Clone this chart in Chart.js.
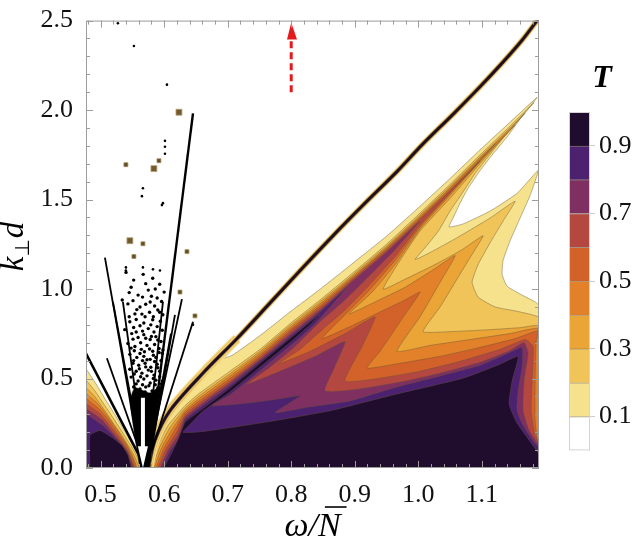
<!DOCTYPE html>
<html>
<head>
<meta charset="utf-8">
<script src="https://cdn.jsdelivr.net/npm/chart.js@4.4.0/dist/chart.umd.min.js"></script>
<style>
  body { margin: 0; background: #fff; }
  #wrap { position: relative; width: 639px; height: 547px; }
  canvas { position: absolute; }
  #main { left: 0; top: 0; }
  #bar { left: 540px; top: 50px; }
</style>
</head>
<body>
<div id="wrap">
  <canvas id="main" width="639" height="547"></canvas>
  <canvas id="bar" width="99" height="420"></canvas>
</div>
<script>
// ticks
const xTickValues = [0.5, 0.6, 0.7, 0.8, 0.9, 1.0, 1.1];
const xMinorTicks = [0.48, 0.52, 0.54, 0.56, 0.58, 0.62, 0.64, 0.66, 0.68, 0.72, 0.74, 0.76, 0.78,
  0.82, 0.84, 0.86, 0.88, 0.92, 0.94, 0.96, 0.98, 1.02, 1.04, 1.06, 1.08, 1.12, 1.14, 1.16, 1.18];
const yTickValues = [0, 0.5, 1.0, 1.5, 2.0, 2.5];
const yMinorTicks = [0.1, 0.2, 0.3, 0.4, 0.6, 0.7, 0.8, 0.9, 1.1, 1.2, 1.3, 1.4, 1.6, 1.7, 1.8, 1.9,
  2.1, 2.2, 2.3, 2.4];
const colorbarTicks = [0.1, 0.3, 0.5, 0.7, 0.9];
const colorbarEdges = [0, 0.1, 0.2, 0.3, 0.4, 0.5, 0.6, 0.7, 0.8, 0.9, 1.0];

// contour regions T >= level, main part (omega/N, k d)
const band1 = [[0.5729,0],[0.5855,0.144],[0.6013,0.260],[0.6249,0.381],[0.6564,0.502],[0.6847,0.602],[0.7068,0.629],
  [0.7509,0.740],[0.7981,0.872],[0.8454,0.999],[0.8926,1.132],[0.9509,1.298],[1.0028,1.463],[1.0501,1.618],[1.0973,1.778],[1.1446,1.933],[1.1871,2.071],
  [1.1635,1.966],[1.1398,1.850],[1.1178,1.756],[1.0973,1.662],[1.0784,1.563],[1.0658,1.480],[1.0548,1.397],[1.0485,1.347],
  [1.0706,1.364],[1.1131,1.436],[1.1556,1.535],[1.1887,1.662],
  [1.1761,1.524],[1.1603,1.397],[1.1446,1.270],[1.1335,1.160],[1.1320,1.082],
  [1.1398,1.016],[1.1635,0.966],[1.1839,0.928],[1.195,0.890],[1.195,-0.01]];
const band2 = [[0.5776,0],[0.5902,0.127],[0.6060,0.237],[0.6328,0.348],[0.6564,0.420],[0.7036,0.541],[0.7509,0.663],[0.7981,0.806],
  [0.8454,0.939],[0.8926,1.077],[0.9509,1.253],[1.0028,1.425],[1.0501,1.585],[1.0973,1.750],[1.1446,1.911],[1.1824,2.043],
  [1.1572,1.944],[1.1335,1.844],[1.1099,1.739],[1.0895,1.646],[1.0690,1.535],[1.0501,1.436],[1.0318,1.325],[1.0107,1.231],[0.9950,1.165],
  [1.0186,1.204],[1.0611,1.287],[1.1131,1.397],[1.1524,1.491],
  [1.1335,1.380],[1.1131,1.259],[1.0942,1.137],[1.0847,1.038],
  [1.0942,0.955],[1.1209,0.900],[1.1603,0.872],[1.195,0.830],[1.195,-0.01]];
const band3 = [[0.5808,0],[0.5934,0.121],[0.6091,0.226],[0.6328,0.334],[0.6564,0.406],[0.7036,0.527],[0.7509,0.652],[0.7981,0.795],
  [0.8454,0.928],[0.8926,1.066],[0.9509,1.242],[1.0028,1.414],[1.0501,1.574],[1.0973,1.739],[1.1446,1.900],[1.1682,1.982],
  [1.1398,1.872],[1.0973,1.701],[1.0501,1.507],[1.0028,1.325],[0.9713,1.160],[0.9446,0.999],
  [0.9792,1.055],[1.0265,1.137],[1.0690,1.220],[1.1020,1.298],
  [1.0816,1.176],[1.0580,1.038],[1.0343,0.900],[1.0076,0.762],
  [1.0501,0.762],[1.1131,0.773],[1.1603,0.784],[1.195,0.792],[1.195,-0.01]];
const band4 = [[0.5839,0],[0.5965,0.116],[0.6123,0.215],[0.6328,0.320],[0.6564,0.392],[0.7036,0.514],[0.7509,0.641],[0.7981,0.784],
  [0.8454,0.917],[0.8926,1.057],[0.9509,1.234],[1.0028,1.405],[1.0501,1.565],[1.0973,1.731],[1.1524,1.916],
  [1.0973,1.712],[1.0501,1.524],[1.0028,1.336],[0.9635,1.137],[0.9273,0.983],[0.8910,0.861],
  [0.9320,0.928],[0.9792,1.010],[1.0265,1.115],[1.0580,1.187],
  [1.0343,1.038],[1.0028,0.845],[0.9666,0.652],
  [1.0186,0.685],[1.0816,0.718],[1.1446,0.751],[1.195,0.776],[1.195,-0.01]];
const band5 = [[0.5871,0],[0.5997,0.110],[0.6154,0.204],[0.6328,0.309],[0.6564,0.378],[0.7036,0.500],[0.7509,0.629],[0.7981,0.773],
  [0.8454,0.906],[0.8926,1.049],[0.9509,1.226],[1.0028,1.397],[1.0501,1.557],[1.0973,1.723],[1.1209,1.811],
  [1.0816,1.657],[1.0501,1.535],[1.0028,1.347],[0.9635,1.160],[0.9241,0.999],[0.8847,0.856],[0.8485,0.723],
  [0.8926,0.790],[0.9398,0.872],[0.9792,0.939],[1.0028,0.983],
  [0.9713,0.817],[0.9398,0.652],[0.9194,0.558],
  [0.9713,0.585],[1.0343,0.624],[1.0973,0.674],[1.1524,0.723],[1.19,0.768],[1.1855,0.707],[1.1839,0.486],
  [1.1839,0.265],[1.1887,0.127],[1.195,0.110],[1.195,-0.01]];
const band6 = [[0.5902,0],[0.6028,0.105],[0.6186,0.193],[0.6328,0.295],[0.6564,0.364],[0.7036,0.486],[0.7509,0.618],[0.7981,0.762],
  [0.8454,0.895],[0.8926,1.041],[0.9509,1.218],[1.0028,1.389],[1.0501,1.549],[1.0973,1.715],
  [1.0501,1.538],[1.0028,1.358],[0.9635,1.182],[0.9241,1.027],[0.8847,0.883],[0.8454,0.762],[0.8139,0.663],[0.7792,0.580],
  [0.8296,0.652],[0.8847,0.751],[0.9320,0.845],
  [0.9115,0.679],[0.8847,0.486],
  [0.9398,0.502],[1.0028,0.541],[1.0658,0.596],[1.1288,0.663],[1.1682,0.718],[1.1808,0.679],[1.1792,0.486],
  [1.1776,0.320],[1.1839,0.182],[1.195,0.115],[1.195,-0.01]];
const band7 = [[0.5934,0],[0.6060,0.099],[0.6217,0.182],[0.6328,0.282],[0.6564,0.351],[0.7036,0.475],[0.7509,0.607],[0.7981,0.748],
  [0.8454,0.883],[0.8926,1.033],[0.9509,1.209],[1.0028,1.380],
  [0.9635,1.220],[0.9241,1.077],[0.8847,0.939],[0.8454,0.817],[0.8060,0.679],[0.7666,0.563],[0.7304,0.469],
  [0.7824,0.541],[0.8375,0.624],[0.8847,0.707],
  [0.8690,0.569],[0.8532,0.431],
  [0.9083,0.442],[0.9713,0.480],[1.0343,0.530],[1.0973,0.591],[1.1446,0.657],[1.1666,0.701],[1.1729,0.641],
  [1.1666,0.486],[1.1650,0.320],[1.1745,0.210],[1.195,0.095],[1.195,-0.01]];
const band8 = [[0.5965,0],[0.6091,0.094],[0.6249,0.171],[0.6328,0.268],[0.6564,0.337],[0.7036,0.461],[0.7509,0.596],[0.7981,0.734],
  [0.8454,0.872],[0.8879,1.010],
  [0.8611,0.900],[0.8375,0.806],[0.8139,0.729],[0.7745,0.613],[0.7351,0.497],[0.7036,0.409],[0.6753,0.348],
  [0.7351,0.364],[0.7824,0.387],[0.8139,0.403],
  [0.7745,0.309],
  [0.8296,0.342],[0.8926,0.375],[0.9666,0.453],[1.0343,0.514],[1.0973,0.574],[1.1414,0.641],[1.1635,0.674],
  [1.1635,0.569],[1.1572,0.431],[1.1556,0.320],[1.1650,0.237],[1.1824,0.144],[1.195,0.090],[1.195,-0.01]];
const band9 = [[0.5997,0],[0.6123,0.088],[0.6233,0.171],[0.6328,0.254],[0.6564,0.320],[0.7036,0.447],[0.7509,0.585],[0.7981,0.723],
  [0.8454,0.861],
  [0.8296,0.801],[0.7981,0.701],[0.7509,0.563],[0.7036,0.425],[0.6603,0.315],[0.6406,0.243],[0.6296,0.199],
  [0.6611,0.204],[0.7666,0.260],[0.8611,0.320],[0.9666,0.414],[1.0706,0.502],[1.1288,0.580],[1.1572,0.624],
  [1.1477,0.486],[1.1430,0.359],[1.1540,0.260],[1.1745,0.155],[1.195,0.050],[1.195,-0.01]];

// contour regions, small part at low omega
const leftBand1 = [[0.474,0.570],[0.4910,0.480],[0.5068,0.387],[0.5225,0.298],[0.5383,0.204],[0.5540,0.110],[0.5650,0.033],[0.5698,-0.01],[0.474,-0.01]];
const leftBand2 = [[0.474,0.505],[0.4910,0.431],[0.5068,0.348],[0.5225,0.265],[0.5383,0.177],[0.5540,0.088],[0.5635,-0.01],[0.474,-0.01]];
const leftBand3 = [[0.474,0.460],[0.4910,0.398],[0.5068,0.320],[0.5225,0.237],[0.5383,0.155],[0.5524,0.072],[0.5603,-0.01],[0.474,-0.01]];
const leftBand4 = [[0.474,0.425],[0.4942,0.364],[0.5099,0.293],[0.5257,0.215],[0.5398,0.138],[0.5509,0.061],[0.5572,-0.01],[0.474,-0.01]];
const leftBand5 = [[0.474,0.397],[0.4973,0.331],[0.5131,0.265],[0.5272,0.193],[0.5414,0.121],[0.5509,0.050],[0.5556,-0.01],[0.474,-0.01]];
const leftBand6 = [[0.474,0.368],[0.4989,0.304],[0.5146,0.237],[0.5288,0.171],[0.5414,0.105],[0.5493,0.039],[0.5540,-0.01],[0.474,-0.01]];
const leftBand7 = [[0.474,0.340],[0.5020,0.271],[0.5162,0.210],[0.5304,0.149],[0.5430,0.088],[0.5493,0.028],[0.5524,-0.01],[0.474,-0.01]];
const leftBand8 = [[0.474,0.312],[0.5052,0.232],[0.5194,0.182],[0.5320,0.133],[0.5430,0.077],[0.5477,0.017],[0.5509,-0.01],[0.474,-0.01]];
const leftBand9 = [[0.4831,-0.01],[0.4831,0.182],[0.4989,0.210],[0.5178,0.171],[0.5335,0.127],[0.5430,0.072],[0.5493,-0.01]];

// narrow resonance ridge (lower part is broader)
const ridgeLine = [[0.5745,-0.01],[0.5855,0.155],[0.6091,0.320],[0.6611,0.530],[0.7146,0.723],[0.7666,0.922],[0.8186,1.121],
  [0.8658,1.298],[0.9131,1.469],[0.9666,1.657],[1.0060,1.806],[1.0548,1.977],[1.0973,2.131],[1.1335,2.269],[1.1635,2.391],
  [1.1871,2.501],[1.195,2.54]];
const ridgeLow = [[0.5745,-0.01],[0.5855,0.155],[0.6091,0.320],[0.6611,0.530],[0.7146,0.723]];

// numerical noise near the cut-off
const leftRidge = [[0.474,0.66],[0.5619,0.061]];
const fanLines = [
  [[0.5068,1.176],[0.5619,0.061]],
  [[0.5099,0.613],[0.5572,0.138]],
  [[0.5194,0.928],[0.5619,0.116]],
  [[0.5351,0.928],[0.5666,0.116]],
  [[0.5981,0.928],[0.5729,0.099]],
  [[0.6170,0.856],[0.5808,0.116]],
  [[0.6107,0.751],[0.5776,0.099]],
  [[0.6280,0.944],[0.5776,0.099]],
  [[0.6454,0.817],[0.5808,0.099]]
];
const longFanLine = [[0.6454,1.982],[0.5761,0.033]];
const fanCore = [[0.5619,-0.01],[0.5461,0.375],[0.5540,0.45],[0.5776,0.42],[0.5950,0.46],[0.5871,0.30],[0.5776,-0.01]];
const clusterDots = [[0.540,1.093],[0.567,1.082],[0.582,1.060],[0.593,1.027],[0.548,1.010],[0.575,0.994],[0.559,0.966],[0.589,0.950],
  [0.600,0.983],[0.534,0.939],[0.543,0.917],[0.562,0.900],[0.578,0.928],[0.590,0.883],[0.554,0.861],[0.570,0.845],[0.582,0.828],
  [0.598,0.856],[0.546,0.817],[0.562,0.795],[0.575,0.779],[0.589,0.790],[0.538,0.773],[0.549,0.751],[0.559,0.729],[0.568,0.745],
  [0.578,0.718],[0.587,0.734],[0.595,0.707],[0.543,0.696],[0.554,0.679],[0.564,0.663],[0.573,0.685],[0.582,0.652],[0.592,0.668],
  [0.546,0.635],[0.557,0.618],[0.568,0.624],[0.578,0.607],[0.587,0.618],[0.597,0.641],[0.551,0.585],[0.560,0.574],[0.570,0.585],
  [0.579,0.563],[0.589,0.580],[0.556,0.541],[0.565,0.530],[0.575,0.547],[0.584,0.519],[0.593,0.541],[0.548,0.508],[0.559,0.486],
  [0.568,0.497],[0.578,0.475],[0.587,0.491],[0.552,0.453],[0.562,0.442],[0.571,0.453],[0.581,0.431],[0.590,0.447],[0.556,0.409],
  [0.565,0.398],[0.575,0.409],[0.584,0.387],[0.546,0.552],[0.597,0.486],
  [0.552,1.05],[0.571,1.03],[0.586,1.00],[0.545,0.98],[0.566,0.955],[0.580,0.96],[0.596,0.93],[0.551,0.935],[0.571,0.915],[0.585,0.905],
  [0.557,0.885],[0.577,0.87],[0.593,0.87],[0.565,0.86],[0.545,0.845],[0.583,0.845],[0.556,0.83],[0.568,0.81],[0.594,0.82],[0.579,0.80],
  [0.552,0.785],[0.566,0.765],[0.584,0.76],[0.597,0.77],[0.556,0.76],[0.571,0.725],[0.590,0.715],[0.551,0.72],[0.580,0.735],[0.563,0.70],
  [0.585,0.69],[0.548,0.67],[0.569,0.65],[0.577,0.665],[0.598,0.66],[0.553,0.655],[0.562,0.64],[0.583,0.63],[0.592,0.645],[0.573,0.605],
  [0.552,0.60],[0.566,0.60],[0.585,0.595],[0.595,0.60],[0.561,0.555],[0.571,0.565],[0.580,0.54],[0.590,0.56],[0.553,0.525],[0.573,0.515],
  [0.563,0.51],[0.583,0.50],[0.593,0.51],[0.556,0.47],[0.566,0.465],[0.576,0.46],[0.586,0.465],[0.595,0.47],[0.558,0.43],[0.570,0.425],
  [0.586,0.415]];
const blackDots = [[0.5272,2.485],[0.5524,2.358],[0.6044,2.142],[0.5666,1.563],[0.5965,1.469],[0.6013,1.828],[0.6013,1.795],
  [0.6013,1.756],[0.5650,1.519],[0.5981,1.480],[0.5398,1.121],[0.5398,1.104],[0.5824,1.110],[0.5934,1.104],[0.5666,1.121],[0.6454,0.801]];
const bigSquares = [[0.6233,1.988],[0.5839,1.673],[0.5461,1.270]];
const smallSquares = [[0.5918,1.717],[0.5666,1.253],[0.5398,1.695],[0.5524,1.182],[0.6359,1.209],[0.6485,0.850],[0.6249,0.983]];

// arrows
const whiteShaft = [[0.5666,0.392],[0.5666,0.110]];
const whiteHead = [[0.5587,0.121],[0.5745,0.121],[0.5666,0.0]];
const redShaft = [[0.80,2.10],[0.80,2.395]];
const redHead = [[0.7934,2.395],[0.8091,2.395],[0.80,2.49]];

const bandColors = ['#F6E28C', '#F0C458', '#EBA436', '#E3812A', '#D3622A', '#B44841', '#7F3060', '#4B2170', '#200D2E'];
const contourColor = 'rgba(100,85,55,0.55)';
const serif = '"Liberation Serif", "Times New Roman", serif';

const toPts = a => a.map(p => ({ x: p[0], y: p[1] }));

function region(points, color, order) {
  return {
    data: toPts(points), showLine: true, fill: 'shape', backgroundColor: color,
    borderColor: contourColor, borderWidth: 0.8, pointRadius: 0, tension: 0.15, order: order
  };
}
function stroke(points, color, width, order, extra) {
  return Object.assign({
    data: toPts(points), showLine: true, fill: false, borderColor: color, borderWidth: width,
    pointRadius: 0, tension: 0, order: order
  }, extra || {});
}
function dots(points, color, radius, style, order, border) {
  return {
    data: toPts(points), showLine: false, backgroundColor: color, borderColor: border || color,
    borderWidth: border ? 0.8 : 0, pointRadius: radius, pointStyle: style, order: order
  };
}

const mainBands = [band1, band2, band3, band4, band5, band6, band7, band8, band9];
const leftBands = [leftBand1, leftBand2, leftBand3, leftBand4, leftBand5, leftBand6, leftBand7, leftBand8, leftBand9];

const datasets = [];
leftBands.forEach((b, i) => datasets.push(region(b, bandColors[i], 300 - i)));
mainBands.forEach((b, i) => datasets.push(region(b, bandColors[i], 280 - i)));
datasets.push(stroke(ridgeLow, '#F4DC86', 10, 202, { tension: 0.3 }));
datasets.push(stroke(ridgeLow, '#E3A642', 7, 201, { tension: 0.3 }));
datasets.push(stroke(ridgeLine, '#F4DC86', 6, 200, { tension: 0.3 }));
datasets.push(stroke(ridgeLine, '#A98040', 4.2, 199, { tension: 0.3 }));
datasets.push(stroke(ridgeLine, '#1E0E22', 2.8, 198, { tension: 0.3 }));
datasets.push(region(fanCore, '#000000', 190));
datasets.push(stroke(leftRidge, '#000000', 2.6, 185));
fanLines.forEach(l => datasets.push(stroke(l, '#000000', 1.8, 180)));
datasets.push(stroke(longFanLine, '#000000', 2.4, 179));
datasets.push(dots(clusterDots, '#000000', 1.7, 'circle', 170));
datasets.push(dots(blackDots, '#000000', 1.3, 'circle', 169));
datasets.push(dots(bigSquares, '#6E5A2E', 4.2, 'rect', 168, '#B8A070'));
datasets.push(dots(smallSquares, '#5E4C28', 2.8, 'rect', 167, '#A89060'));
datasets.push(stroke(whiteShaft, '#FFFFFF', 4, 120));
datasets.push(Object.assign(region(whiteHead, '#FFFFFF', 119), { borderWidth: 0, tension: 0 }));
datasets.push(stroke(redShaft, '#E31A1C', 3, 110, { borderDash: [7, 4] }));
datasets.push(Object.assign(region(redHead, '#E31A1C', 109), { borderWidth: 0, tension: 0 }));

const framePlugin = {
  id: 'frame',
  afterDatasetsDraw(chart) {
    const { ctx, chartArea: a, scales: { x, y } } = chart;
    ctx.save();
    ctx.strokeStyle = '#9c9c9c';
    ctx.lineWidth = 1;
    ctx.strokeRect(a.left + 0.5, a.top + 0.5, a.right - a.left - 1, a.bottom - a.top - 1);
    const tick = (list, len, horizontal) => {
      list.forEach(v => {
        ctx.beginPath();
        if (horizontal) {
          const px = Math.round(x.getPixelForValue(v)) + 0.5;
          ctx.moveTo(px, a.bottom); ctx.lineTo(px, a.bottom - len);
          ctx.moveTo(px, a.top); ctx.lineTo(px, a.top + len);
        } else {
          const py = Math.round(y.getPixelForValue(v)) + 0.5;
          ctx.moveTo(a.left, py); ctx.lineTo(a.left + len, py);
          ctx.moveTo(a.right, py); ctx.lineTo(a.right - len, py);
        }
        ctx.stroke();
      });
    };
    tick(xTickValues, 7, true);
    tick(xMinorTicks, 4, true);
    tick(yTickValues, 7, false);
    tick(yMinorTicks, 4, false);
    ctx.restore();
  },
  afterDraw(chart) {
    const { ctx, chartArea: a } = chart;
    ctx.save();
    ctx.fillStyle = '#000';
    ctx.textBaseline = 'alphabetic';
    // x title: omega / N-bar
    ctx.font = 'italic 34px ' + serif;
    const w1 = ctx.measureText('ω/').width;
    const w2 = ctx.measureText('N').width;
    const cx = (a.left + a.right) / 2;
    const x0 = cx - (w1 + w2) / 2;
    ctx.fillText('ω/', x0, 536);
    ctx.fillText('N', x0 + w1, 536);
    ctx.strokeStyle = '#000';
    ctx.lineWidth = 1.6;
    ctx.beginPath();
    ctx.moveTo(x0 + w1 + 7, 507);
    ctx.lineTo(x0 + w1 + w2 + 6, 507);
    ctx.stroke();
    // y title: k_perp d
    ctx.translate(23, (a.top + a.bottom) / 2 + 27);
    ctx.rotate(-Math.PI / 2);
    ctx.font = 'italic 33px ' + serif;
    ctx.fillText('k', 0, 0);
    let off = ctx.measureText('k').width;
    ctx.font = '20px "DejaVu Sans", sans-serif';
    ctx.fillText('⊥', off, 6);
    off += ctx.measureText('⊥').width + 1;
    ctx.font = 'italic 33px ' + serif;
    ctx.fillText('d', off, 0);
    ctx.restore();
  }
};

new Chart(document.getElementById('main'), {
  type: 'scatter',
  data: { datasets: datasets },
  options: {
    responsive: false,
    animation: false,
    events: [],
    layout: { padding: { left: 0, right: 100, top: 15, bottom: 0 } },
    plugins: { legend: { display: false }, tooltip: { enabled: false } },
    scales: {
      x: {
        type: 'linear', min: 0.477, max: 1.19,
        grid: { display: false }, border: { display: false },
        afterBuildTicks: s => { s.ticks = xTickValues.map(v => ({ value: v })); },
        afterFit: s => { s.height = 79; },
        ticks: { font: { family: serif, size: 26 }, color: '#111', padding: 4, maxRotation: 0, autoSkip: false,
          callback: v => v.toFixed(1) }
      },
      y: {
        type: 'linear', min: 0, max: 2.5,
        grid: { display: false }, border: { display: false },
        afterBuildTicks: s => { s.ticks = yTickValues.map(v => ({ value: v })); },
        afterFit: s => { s.width = 86; },
        ticks: { font: { family: serif, size: 26 }, color: '#111', padding: 5, autoSkip: false,
          callback: v => v.toFixed(1) }
      }
    }
  },
  plugins: [framePlugin]
});

// colour bar
const barColors = ['#FFFFFF'].concat(bandColors);
const barSets = barColors.map((c, i) => ({
  data: [[colorbarEdges[i], colorbarEdges[i + 1]]],
  backgroundColor: c,
  borderColor: contourColor,
  borderWidth: { top: i < barColors.length - 1 ? 1 : 0, bottom: 0, left: 0, right: 0 },
  borderSkipped: false,
  barPercentage: 1, categoryPercentage: 1, grouped: false
}));

const barPlugin = {
  id: 'barframe',
  afterDatasetsDraw(chart) {
    const { ctx, chartArea: a } = chart;
    ctx.save();
    ctx.strokeStyle = '#d4d4d4';
    ctx.lineWidth = 1;
    ctx.strokeRect(a.left + 0.5, a.top + 0.5, a.right - a.left - 1, a.bottom - a.top - 1);
    ctx.restore();
  },
  afterDraw(chart) {
    const { ctx } = chart;
    ctx.save();
    ctx.fillStyle = '#000';
    ctx.font = 'italic bold 32px ' + serif;
    ctx.textAlign = 'center';
    ctx.textBaseline = 'alphabetic';
    ctx.fillText('T', 62, 37);
    ctx.restore();
  }
};

new Chart(document.getElementById('bar'), {
  type: 'bar',
  data: { labels: ['T'], datasets: barSets },
  options: {
    responsive: false,
    animation: false,
    events: [],
    layout: { padding: { left: 29, right: 0, top: 62, bottom: 18 } },
    plugins: { legend: { display: false }, tooltip: { enabled: false } },
    scales: {
      x: { display: false },
      y: {
        position: 'right', min: 0, max: 1,
        grid: { display: true, drawOnChartArea: false, drawTicks: true, tickLength: 5, color: '#cccccc' },
        border: { display: false },
        afterBuildTicks: s => { s.ticks = colorbarTicks.map(v => ({ value: v })); },
        afterFit: s => { s.width = 49; },
        ticks: { font: { family: serif, size: 26 }, color: '#111', padding: 4, callback: v => v.toFixed(1) }
      }
    }
  },
  plugins: [barPlugin]
});
</script>
</body>
</html>
